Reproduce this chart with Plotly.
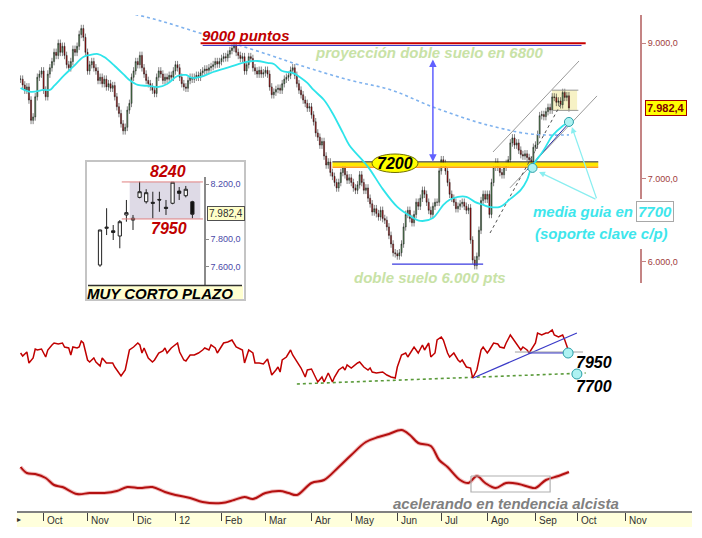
import math
import plotly.graph_objects as go

# ---------------- DATA ----------------
# Trading-day index: 0 = first session of Oct-2011; first candle = -11
FIRST_DAY = -11
close_sep11 = [8420, 8330, 8250, 8300, 8100, 7800, 7850, 8150, 8450, 8500, 8550]
close_oct11 = [8250, 8150, 8500, 8600, 8700, 8850, 8800, 9000, 8850, 8950, 8800, 8650, 8600, 8700, 8900,
               8850, 8950, 9150, 9250, 9100, 8850]
close_nov11 = [8550, 8650, 8700, 8600, 8550, 8400, 8450, 8350, 8420, 8300, 8350, 8280, 8320, 8150, 8000,
               7900, 7750, 7650, 7700, 7950, 8050, 8450]
close_dec11 = [8550, 8700, 8650, 8800, 8600, 8500, 8400, 8350, 8300, 8250, 8200, 8450, 8550, 8500, 8400,
               8450, 8420, 8480, 8450, 8550]
close_jan12 = [8650, 8600, 8450, 8350, 8300, 8280, 8400, 8450, 8420, 8450, 8480, 8450, 8520, 8550, 8580,
               8560, 8600, 8620, 8650, 8700, 8660, 8700]
close_feb12 = [8750, 8780, 8760, 8820, 8880, 8920, 8960, 8850, 8800, 8750, 8780, 8550, 8650, 8780, 8750,
               8600, 8550, 8500, 8560, 8500, 8520]
close_mar12 = [8560, 8500, 8300, 8180, 8220, 8260, 8280, 8250, 8350, 8420, 8450, 8480, 8560, 8600, 8480,
               8350, 8250, 8180, 8100, 8050, 7980, 8000]
close_apr12 = [7880, 7780, 7620, 7560, 7450, 7500, 7300, 7180, 7220, 7080, 7030, 6950, 6880, 6950, 7080,
               7150, 7050, 6980, 7010]
close_may12 = [6950, 6880, 6850, 6920, 7050, 6950, 6850, 6880, 6750, 6680, 6580, 6620, 6560, 6520, 6600,
               6500, 6480, 6400, 6300, 6200, 6100, 6089]
close_jun12 = [6064, 6100, 6200, 6400, 6550, 6600, 6500, 6450, 6550, 6700, 6650, 6750, 6850, 6800, 6700,
               6600, 6550, 6650, 6700, 6700, 7102]
close_jul12 = [7250, 7200, 7100, 6950, 6800, 6750, 6700, 6620, 6650, 6680, 6700, 6650, 6600, 6630, 6246,
               6018, 5956, 6060, 6360, 6720, 6800, 6738]
close_aug12 = [6800, 6550, 6950, 7150, 7220, 7150, 7080, 7050, 7150, 7200, 7250, 7480, 7550, 7450, 7480,
               7380, 7320, 7300, 7330, 7280, 7250, 7200, 7420]
close_sep12 = [7450, 7600, 7868, 7885, 7855, 7928, 7990, 7950, 8147, 8140, 8065, 8086, 8030, 8215, 8140,
               8164, 7982.4]

month_pos = [0, 21, 43, 63, 85, 106, 128, 147, 169, 190, 212, 235, 255, 278]
month_lbl = ["Oct", "Nov", "Dic", "12", "Feb", "Mar", "Abr", "May", "Jun", "Jul", "Ago", "Sep", "Oct", "Nov"]

price_ticks = [6000, 7000, 9000]
price_tick_txt = ["6.000,0", "7.000,0", "9.000,0"]
last_price_txt = "7.982,4"

# cyan guide moving average
ma_x = [-11, -6, 0, 3, 5, 10, 14, 19, 22, 26, 29, 34, 39, 41, 45, 50, 55, 59, 64, 68,
        71, 75, 81, 89, 97, 102, 107, 110, 114, 119, 123, 126, 129, 134, 138, 143, 146, 155, 162, 169,
        175, 180, 186, 191, 194, 198, 202, 206, 210, 213, 218, 223, 228, 231, 233, 239, 243, 248, 251]
ma_y = [8284, 8223, 8253, 8253, 8315, 8486, 8613, 8773, 8806, 8822, 8773, 8629, 8470, 8407, 8330, 8315, 8299, 8345, 8470, 8486,
        8439, 8455, 8533, 8613, 8693, 8709, 8677, 8661, 8549, 8518, 8439, 8361, 8253, 8101, 7908, 7620, 7452, 7155, 6868, 6642,
        6533, 6472, 6508, 6667, 6730, 6767, 6767, 6705, 6667, 6642, 6642, 6742, 6855, 6984, 7141, 7384, 7578, 7720, 7777]

# long-term (dotted) moving average
lt_x = [41, 56, 73, 90, 108, 122, 146, 166, 186, 207, 218, 229, 239, 251]
lt_y = [9521, 9381, 9191, 9005, 8806, 8645, 8407, 8253, 7996, 7776, 7690, 7619, 7592, 7592]

# middle panel oscillator
osc_x = [-11, -10, -8, -7, -5, -4, -3, -1, 1, 2,
         4, 5, 7, 9, 10, 12, 13, 14, 16, 17,
         18, 19, 21, 22, 24, 25, 27, 28, 30, 33,
         34, 36, 37, 39, 40, 41, 43, 45, 46, 47,
         48, 50, 52, 53, 55, 57, 58, 59, 61, 64,
         65, 67, 68, 70, 72, 74, 76, 77, 79, 80,
         82, 83, 86, 88, 90, 92, 95, 96, 98, 100,
         101, 103, 105, 107, 108, 109, 111, 112, 113, 114,
         116, 118, 119, 121, 123, 125, 126, 128, 130, 131,
         133, 134, 136, 138, 139, 141, 143, 144, 145, 147,
         150, 151, 153, 155, 156, 157, 159, 162, 164, 166,
         168, 169, 171, 173, 174, 176, 177, 179, 181, 182,
         184, 185, 187, 188, 190, 191, 193, 194, 196, 198,
         199, 200, 202, 204, 205, 207, 209, 210, 212, 213,
         215, 217, 218, 220, 221, 223, 224, 226, 228, 229,
         231, 232, 234, 235, 236, 238, 240, 241, 243, 244,
         246, 248, 249, 251]
osc_v = [47, 44, 48, 37, 42, 51, 50, 51, 43, 50,
         55, 57, 56, 57, 53, 52, 45, 53, 52, 53,
         59, 57, 40, 38, 42, 38, 34, 42, 37, 37,
         33, 27, 24, 30, 40, 50, 53, 57, 55, 47,
         52, 42, 38, 40, 47, 49, 52, 47, 52, 57,
         48, 40, 39, 45, 45, 47, 50, 52, 50, 55,
         52, 47, 57, 58, 60, 53, 50, 37, 50, 47,
         37, 37, 36, 41, 33, 25, 30, 33, 28, 40,
         43, 50, 45, 38, 32, 23, 30, 31, 23, 18,
         23, 18, 27, 18, 23, 30, 33, 30, 35, 32,
         37, 38, 33, 30, 32, 28, 27, 28, 25, 23,
         22, 33, 45, 47, 43, 50, 53, 47, 55, 50,
         57, 43, 47, 60, 63, 60, 47, 43, 47, 40,
         38, 40, 33, 32, 22, 30, 50, 53, 47, 50,
         57, 56, 53, 52, 57, 65, 62, 55, 50, 53,
         50, 47, 53, 57, 67, 65, 67, 67, 70, 65,
         63, 65, 60, 48]

# bottom panel slow indicator
slow_x = [-11, -8, -4, 1, 5, 9, 16, 22, 29, 35, 40, 46, 52, 58, 63, 70, 76, 85, 91, 96,
          100, 106, 113, 117, 121, 128, 134, 141, 147, 154, 160, 165, 171, 175, 179, 185, 189, 193, 199, 203,
          207, 211, 216, 221, 227, 232, 235, 240, 246, 251]
slow_v = [43, 37, 36, 32, 25, 23, 16, 17, 17, 19, 23, 22, 23, 18, 15, 12, 8, 7, 10, 13,
          11, 17, 19, 17, 15, 27, 30, 43, 55, 68, 73, 76, 80, 75, 67, 64, 50, 43, 30, 27,
          34, 27, 22, 27, 26, 23, 22, 30, 34, 38]

# inset "muy corto plazo" candles
ins_open = [7613, 7880, 7862, 7824, 7977, 7953, 8105, 8073, 8069, 8090, 8033, 8062, 8151, 8117, 8073]
ins_high = [7870, 8026, 7904, 7940, 8086, 7977, 8219, 8164, 8146, 8146, 8086, 8215, 8180, 8188, 8080]
ins_low = [7600, 7831, 7795, 7735, 7928, 7868, 8098, 8060, 7953, 8000, 7977, 8055, 8086, 8105, 7953]
ins_close = [7868, 7888, 7850, 7928, 7994, 7940, 8146, 8139, 8062, 8086, 8025, 8215, 8134, 8164, 7982.4]
ins_ticks = [7600, 7800, 8200]
ins_tick_txt = ["7.600,0", "7.800,0", "8.200,0"]
ins_range_lvls = [8217, 7948]

# drawn studies (data coords: trading-day index, price)
lvl_9000 = 9000
lvl_7200 = 7200
bottom_lvl = 5973
proj_top = 8756
guide_pts_x = [233.6, 251]
guide_pts_y = [7141, 7777]

# ---------------- LAYOUT HELPERS ----------------
W, H = 702, 538
ML, MR, MT, MB = 17, 10, 10, 26
PW, PH = W - ML - MR, H - MT - MB
X0PX, DXPX = 43.6, 2.093          # pixel of day 0 and px per session
Y9000PX, PXDEC = 43.3, 1240.0      # log scale of main panel


def px(x):
    return (x - ML) / PW


def py(y):
    return (H - MB - y) / PH


FONT = "Liberation Sans, Arial, sans-serif"
close = (close_sep11 + close_oct11 + close_nov11 + close_dec11 + close_jan12 + close_feb12 + close_mar12 +
         close_apr12 + close_may12 + close_jun12 + close_jul12 + close_aug12 + close_sep12)
days = list(range(FIRST_DAY, FIRST_DAY + len(close)))
WICK = 0.007
opn = [close[0]] + close[:-1]
high = [max(o, c) * (1 + WICK) for o, c in zip(opn, close)]
low = [min(o, c) * (1 - WICK) for o, c in zip(opn, close)]

fig = go.Figure()
LX = dict(xaxis="x", yaxis="y", showlegend=False, hoverinfo="skip")

# candles
fig.add_trace(go.Candlestick(x=days, open=opn, high=high, low=low, close=close,
                             increasing=dict(line=dict(color="#1a1a1a", width=0.55), fillcolor="#5a985a"),
                             decreasing=dict(line=dict(color="#1a1a1a", width=0.55), fillcolor="#c00000"),
                             whiskerwidth=0, xaxis="x", yaxis="y", showlegend=False, hoverinfo="skip"))

# last-days range box edges
for lv in [8250, 7946]:
    fig.add_trace(go.Scatter(x=[242.9, 255.5], y=[lv, lv], mode="lines", line=dict(color="#9a9a9a", width=1), **LX))

# 7200 band
fig.add_trace(go.Scatter(x=[138, 265], y=[lvl_7200 * 0.998] * 2, mode="lines", line=dict(color="#ffe800", width=4.5), **LX))
fig.add_trace(go.Scatter(x=[138, 265], y=[lvl_7200 * 1.003] * 2, mode="lines", line=dict(color="#202020", width=1), **LX))
fig.add_trace(go.Scatter(x=[138, 265], y=[lvl_7200 * 0.993] * 2, mode="lines", line=dict(color="#ff9a20", width=1.3), **LX))

# long MA dotted
fig.add_trace(go.Scatter(x=lt_x, y=lt_y, mode="lines", line=dict(color="#7fb2ee", width=1.6, dash="dot", shape="spline"), **LX))
# 9000 lines
fig.add_trace(go.Scatter(x=[76, 257], y=[lvl_9000 * 0.996] * 2, mode="lines", line=dict(color="#3434c8", width=1), **LX))
fig.add_trace(go.Scatter(x=[75, 259], y=[lvl_9000] * 2, mode="lines", line=dict(color="#c80000", width=2), **LX))
# double bottom
fig.add_trace(go.Scatter(x=[166.5, 210], y=[bottom_lvl] * 2, mode="lines", line=dict(color="#3a3ae0", width=1.2), **LX))
# channel
fig.add_trace(go.Scatter(x=[214.7, 255.8], y=[7355, 8709], mode="lines", line=dict(color="#9a9a9a", width=1), **LX))
fig.add_trace(go.Scatter(x=[222.8, 264.4], y=[6881, 8162], mode="lines", line=dict(color="#9a9a9a", width=1), **LX))
# dashed support
fig.add_trace(go.Scatter(x=[213.3, 248.2], y=[6328, 8101], mode="lines", line=dict(color="#505050", width=1, dash="dot"), **LX))
# dark blue trend under MA
fig.add_trace(go.Scatter(x=[231, 251.5], y=[7115, 7777], mode="lines", line=dict(color="#2a2aa0", width=1), **LX))
# cyan MA
fig.add_trace(go.Scatter(x=ma_x, y=ma_y, mode="lines", line=dict(color="#2ee4ea", width=1.8, shape="spline"), **LX))
# guide circles
fig.add_trace(go.Scatter(x=guide_pts_x, y=guide_pts_y, mode="markers",
                         marker=dict(size=9, color="#aef2f2", line=dict(color="#2aa0a8", width=1)), **LX))

# ---- middle panel ----
L2 = dict(xaxis="x", yaxis="y2", showlegend=False, hoverinfo="skip")
fig.add_trace(go.Scatter(x=[121, 259], y=[16, 27], mode="lines", line=dict(color="#5a9a3a", width=1.6, dash="dot"), **L2))
fig.add_trace(go.Scatter(x=osc_x, y=osc_v, mode="lines", line=dict(color="#c00000", width=1.5), **L2))
fig.add_trace(go.Scatter(x=[205.2, 254.8], y=[22, 67], mode="lines", line=dict(color="#3a3ac8", width=1.2), **L2))
fig.add_trace(go.Scatter(x=[225.2, 257.7], y=[48, 48], mode="lines", line=dict(color="#a0a0a0", width=1), **L2))
fig.add_trace(go.Scatter(x=[231.4, 250.1], y=[47, 47], mode="lines", line=dict(color="#3a3ac8", width=1.2), **L2))
fig.add_trace(go.Scatter(x=[250.6, 254.8], y=[47, 26], mode="markers",
                         marker=dict(size=10, color="#aef2f2", line=dict(color="#2aa0a8", width=1)), **L2))

# ---- bottom panel ----
L3 = dict(xaxis="x", yaxis="y3", showlegend=False, hoverinfo="skip")
fig.add_trace(go.Scatter(x=slow_x, y=slow_v, mode="lines", line=dict(color="#f2c0c0", width=4, shape="spline"), **L3))
fig.add_trace(go.Scatter(x=slow_x, y=slow_v, mode="lines", line=dict(color="#b41010", width=2, shape="spline"), **L3))
fig.add_trace(go.Scatter(x=[204.2, 242, 242, 204.2, 204.2], y=[34, 34, 18, 18, 34], mode="lines",
                         line=dict(color="#b0b0b0", width=1.2), **L3))

# ---- inset ----
LI = dict(xaxis="x2", yaxis="y4", showlegend=False, hoverinfo="skip")
fig.add_trace(go.Candlestick(x=list(range(len(ins_close))), open=ins_open, high=ins_high, low=ins_low, close=ins_close,
                             increasing=dict(line=dict(color="#202020", width=1), fillcolor="#ffffff"),
                             decreasing=dict(line=dict(color="#202020", width=1), fillcolor="#101010"),
                             whiskerwidth=0, xaxis="x2", yaxis="y4", showlegend=False, hoverinfo="skip"))
for lv in ins_range_lvls:
    fig.add_trace(go.Scatter(x=[3.3, 15.6], y=[lv, lv], mode="lines", line=dict(color="#e08080", width=1), **LI))

# ---------------- SHAPES ----------------
shapes = []
# date band
shapes.append(dict(type="rect", xref="paper", yref="paper", x0=0, x1=1, y0=py(527), y1=py(512),
                   fillcolor="#ffffdc", line=dict(width=0), layer="below"))
# inset frame
shapes.append(dict(type="rect", xref="paper", yref="paper", x0=px(86), x1=px(245), y0=py(300), y1=py(161),
                   fillcolor="#ffffff", line=dict(color="#c4c4c4", width=2), layer="below"))
shapes.append(dict(type="rect", xref="paper", yref="paper", x0=px(88), x1=px(243), y0=py(299), y1=py(286),
                   fillcolor="#ffffd0", line=dict(width=0), layer="below"))
shapes.append(dict(type="line", xref="paper", yref="paper", x0=px(88), x1=px(242), y0=py(285.5), y1=py(285.5),
                   line=dict(color="#303030", width=1.5), layer="above"))
# inset shaded range (under candles)
shapes.append(dict(type="rect", xref="x2", yref="y4", x0=4.5, x1=15.2, y0=ins_range_lvls[1], y1=ins_range_lvls[0],
                   fillcolor="#dedae6", line=dict(width=0), layer="below"))
# last-days box fill (under candles)
shapes.append(dict(type="rect", xref="x", yref="paper", x0=242.9, x1=254.9, y0=py(111), y1=py(90),
                   fillcolor="#f7f2c6", line=dict(width=0), layer="below"))
# cover axis line behind the text block
shapes.append(dict(type="rect", xref="paper", yref="paper", x0=px(636), x1=px(647), y0=py(249), y1=py(199),
                   fillcolor="#ffffff", line=dict(width=0), layer="above"))
# 7200 ellipse
shapes.append(dict(type="circle", xref="paper", yref="paper", x0=px(372), x1=px(418), y0=py(172.5), y1=py(154),
                   fillcolor="#ffff00", line=dict(color="#707000", width=1), layer="above"))

# ---------------- ANNOTATIONS ----------------
ann = []


def txt(x, y, s, size=15, color="#000000", xanchor="center", bg=None, border=None, bold=True, italic=True,
        family=FONT):
    t = s
    if italic:
        t = "<i>" + t + "</i>"
    if bold:
        t = "<b>" + t + "</b>"
    d = dict(x=px(x), y=py(y), xref="paper", yref="paper", text=t, showarrow=False, xanchor=xanchor,
             yanchor="middle", font=dict(family=family, size=size, color=color))
    if bg:
        d["bgcolor"] = bg
    if border:
        d["bordercolor"] = border
        d["borderwidth"] = 1
        d["borderpad"] = 1
    ann.append(d)


txt(246, 36, "9000 puntos", 15, "#c00000")
txt(429, 52, "proyección doble suelo en 6800", 15, "#c8e2a6")
txt(395, 163.5, "7200", 16, "#000000")
txt(430, 277, "doble suelo 6.000 pts", 15, "#c8e2a6")
txt(531, 211, "media guia en", 15, "#3ee6ec", xanchor="left")
txt(654.5, 211, "7700", 15, "#3ee6ec", bg="#ffffff", border="#a8a8a8")
txt(601.5, 233, "(soporte clave c/p)", 15, "#3ee6ec", bg="#ffffff")
txt(666, 108, last_price_txt, 11, "#800000", bg="#ffff00", border="#a00000", italic=False)
txt(594, 362, "7950", 16, "#000000")
txt(594, 386, "7700", 16, "#000000")
txt(506, 503, "acelerando en tendencia alcista", 15, "#808080")
txt(160, 293, "MUY CORTO PLAZO", 15, "#000000")
txt(168, 171, "8240", 16, "#c00000")
txt(169, 229, "7950", 16, "#c00000")
txt(226, 213.5, last_price_txt, 10, "#303030", bg="#ffffc8", border="#505050", bold=False, italic=False)
txt(19, 519, "▸", 8, "#303030", bold=False, italic=False)

for m, lbl in zip(month_pos, month_lbl):
    ann.append(dict(x=m + 0.8, y=py(520), xref="x", yref="paper", text=lbl, showarrow=False, xanchor="left",
                    yanchor="middle", font=dict(family="Liberation Sans Narrow, Liberation Sans, Arial", size=10,
                                                color="#303030")))

# arrows
ann.append(dict(x=186, y=math.log10(lvl_7200 * 1.003), xref="x", yref="y", ax=186, ay=math.log10(proj_top),
                axref="x", ayref="y", text="", showarrow=True, arrowside="end+start", arrowhead=2,
                startarrowhead=2, arrowsize=1, arrowwidth=1.5, arrowcolor="#6060ff"))
ann.append(dict(x=236.7, y=math.log10(7088), xref="x", yref="y", ax=264.4, ay=math.log10(6730), axref="x",
                ayref="y", text="", showarrow=True, arrowhead=2, arrowsize=1, arrowwidth=1.2, arrowcolor="#8aeef0"))
ann.append(dict(x=252.4, y=math.log10(7704), xref="x", yref="y", ax=264.4, ay=math.log10(6730), axref="x",
                ayref="y", text="", showarrow=True, arrowhead=2, arrowsize=1, arrowwidth=1.2, arrowcolor="#8aeef0"))

# ---------------- AXES ----------------
xr = [(ML - X0PX) / DXPX, (W - MR - X0PX) / DXPX]
log9000 = math.log10(9000)
yr_main = [log9000 - (283 - Y9000PX) / PXDEC, log9000 + (Y9000PX - 15) / PXDEC]

fig.update_layout(
    width=W, height=H, margin=dict(l=ML, r=MR, t=MT, b=MB, autoexpand=False),
    paper_bgcolor="#ffffff", plot_bgcolor="#ffffff", showlegend=False,
    xaxis=dict(range=xr, anchor="free", position=0, showline=True, linecolor="#808080", linewidth=2,
               ticks="outside", ticklen=8, tickcolor="#404040", tickwidth=1, tickvals=month_pos,
               showticklabels=False, showgrid=False, zeroline=False, rangeslider=dict(visible=False),
               fixedrange=True),
    yaxis=dict(type="log", range=yr_main, domain=[py(283), py(15)], anchor="free", position=px(641),
               side="right", showline=True, linecolor="#c48484", linewidth=2, ticks="outside", ticklen=4,
               tickcolor="#c48484", tickvals=price_ticks, ticktext=price_tick_txt,
               tickfont=dict(family=FONT, size=9, color="#a03c3c"), showgrid=False, zeroline=False),
    yaxis2=dict(range=[0, 80], domain=[py(400), py(320)], anchor="x", visible=False, showgrid=False),
    yaxis3=dict(range=[0, 90], domain=[py(510), py(420)], anchor="x", visible=False, showgrid=False),
    xaxis2=dict(range=[-1.82, 15.76], domain=[px(88), px(204)], anchor="y4", visible=False,
                rangeslider=dict(visible=False), showgrid=False),
    yaxis4=dict(range=[7468, 8253], domain=[py(285), py(177)], anchor="x2", side="right", showline=True,
                linecolor="#8a8a8a", linewidth=1.5, ticks="outside", ticklen=3, tickcolor="#8a8a8a",
                tickvals=ins_ticks, ticktext=ins_tick_txt, tickfont=dict(family=FONT, size=9, color="#4a4aa8"),
                showgrid=False, zeroline=False),
    shapes=shapes, annotations=ann,
)

fig.write_html("out.html", config={"displayModeBar": False},
               post_script="document.body.style.margin='0px';document.body.style.overflow='hidden';")
